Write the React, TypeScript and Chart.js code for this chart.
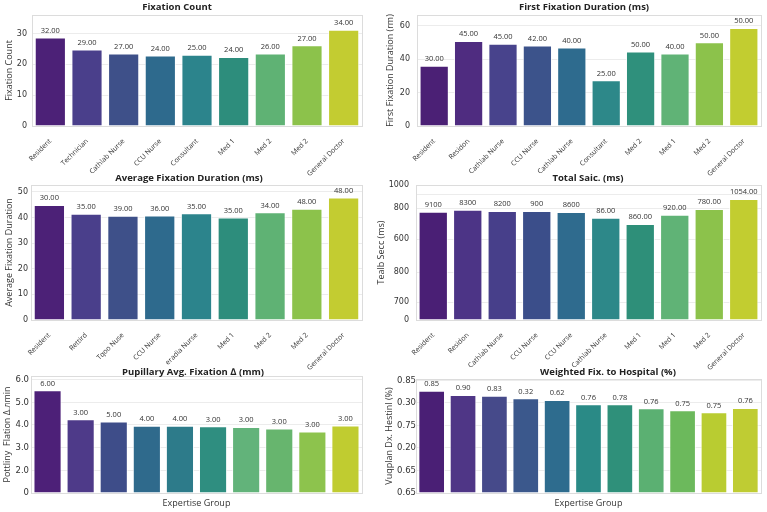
import React, { useEffect, useRef } from "react";
import { Chart, registerables } from "chart.js";

Chart.register(...registerables);

// ---------- Panel 1: Fixation Count ----------
const fcCategories = ["Resident", "Technician", "Cathlab Nurse", "CCU Nurse", "Consultant", "Med 1", "Med 2", "Med 2", "General Doctor"];
const fcValues = [28.7, 24.8, 23.5, 22.9, 23.1, 22.4, 23.5, 26.2, 31.2];
const fcValueLabels = ["32.00", "29.00", "27.00", "24.00", "25.00", "24.00", "26.00", "27.00", "34.00"];
const fcTicks = [0, 10, 20, 30];
const fcTickLabels = ["0", "10", "20", "30"];
const fcColors = ["#4c2177", "#4a3f8b", "#3e5089", "#2e6a8d", "#2c848c", "#2d8d7c", "#5fb274", "#8cc24b", "#c3cc31"];

// ---------- Panel 2: First Fixation Duration ----------
const ffCategories = ["Resident", "Residon", "Cathlab Nurse", "CCU Nurse", "Cathlab Nurse", "Consultant", "Med 2", "Med 1", "Med 2", "General Doctor"];
const ffValues = [36.1, 50.9, 49.3, 48.3, 47.1, 27.4, 44.7, 43.5, 50.1, 58.7];
const ffValueLabels = ["30.00", "45.00", "45.00", "42.00", "40.00", "25.00", "50.00", "40.00", "50.00", "50.00"];
const ffTicks = [0, 20, 40, 60];
const ffTickLabels = ["0", "20", "40", "60"];
const ffColors = ["#4b2075", "#4f2c80", "#48438c", "#3c538b", "#2e6b8e", "#2d8889", "#2f907c", "#60b376", "#8cc24b", "#c2cd30"];

// ---------- Panel 3: Average Fixation Duration ----------
const afCategories = ["Resident", "Rettird", "Tqoo Nuse", "CCU Nurse", "eradia Nurse", "Med 1", "Med 2", "Med 2", "General Doctor"];
const afValues = [44.9, 41.5, 40.7, 40.8, 41.7, 40.0, 42.1, 43.4, 47.8];
const afValueLabels = ["30.00", "35.00", "39.00", "36.00", "35.00", "35.00", "34.00", "48.00", "48.00"];
const afTicks = [0, 10, 20, 30, 40, 50];
const afTickLabels = ["0", "10", "20", "30", "40", "50"];
const afColors = ["#4c2177", "#4a3f8b", "#3e5089", "#2e6a8d", "#2c848c", "#2d8d7c", "#5fb274", "#8cc24b", "#c3cc31"];

// ---------- Panel 4: Total Saic. ----------
const tsCategories = ["Resident", "Residon", "Cathlab Nurse", "CCU Nurse", "CCU Nurse", "Cathlab Nurse", "Med 1", "Med 1", "Med 2", "General Doctor"];
const tsValues = [802, 817, 807, 807, 800, 758, 711, 780, 822, 896];
const tsValueLabels = ["9100", "8300", "8200", "900", "8600", "86.00", "860.00", "920.00", "780.00", "1054.00"];
const tsTicks = [0, 131, 353, 598, 827, 926, 1000];
const tsTickLabels = ["0", "700", "800", "600", "800", "", "1000"];
const tsColors = ["#4a1f75", "#4c3486", "#473f8a", "#3b4e8a", "#2f6b8e", "#2d8889", "#2e8f79", "#60b376", "#8cc24b", "#c2cd30"];

// ---------- Panel 5: Pupillary Avg. Fixation ----------
const puCategories = ["1", "2", "3", "4", "5", "6", "7", "8", "9", "10"];
const puValues = [5.53, 4.25, 4.15, 3.97, 3.97, 3.94, 3.91, 3.84, 3.71, 3.98];
const puValueLabels = ["6.00", "3.00", "5.00", "4.00", "4.00", "3.00", "3.00", "3.00", "3.00", "3.00"];
const puTicks = [1, 2, 3, 4, 5, 6];
const puTickLabels = ["0", "2.0", "3.0", "4.0", "5.0", "6.0"];
const puColors = ["#4d2078", "#4e3a89", "#3e4d89", "#2f6a8c", "#2d7b8a", "#2f8e80", "#62b37a", "#67b56e", "#8dc34d", "#c0cc30"];

// ---------- Panel 6: Weighted Fix. to Hospital ----------
const wfCategories = ["1", "2", "3", "4", "5", "6", "7", "8", "9", "10", "11"];
const wfValues = [4.54, 4.35, 4.32, 4.21, 4.13, 3.94, 3.94, 3.76, 3.67, 3.58, 3.77];
const wfValueLabels = ["0.85", "0.90", "0.83", "0.32", "0.62", "0.76", "0.78", "0.76", "0.75", "0.75", "0.76"];
const wfTicks = [0, 1, 2, 3, 4, 5];
const wfTickLabels = ["0.65", "0.65", "0.20", "0.75", "0.30", "0.85"];
const wfColors = ["#4a1f75", "#4f3686", "#464a8a", "#3b588c", "#2e6c8e", "#2a8a86", "#2f907a", "#5bb072", "#6cb95c", "#b9cc31", "#bfcc33"];

type Panel = {
  x0: number; y0: number; w: number; h: number;
  area: { l: number; r: number; t: number; b: number };
  title: string; titleX: number; titleY: number;
  yTitle: string; yTitlePad: number; tickPad: number; tickSize: number; xTitle?: string;
  categories: string[]; values: number[]; valueLabels: string[];
  colors: string[]; yMin: number; yMax: number;
  ticks: number[]; tickLabels: string[]; showX: boolean;
};

const panels: Panel[] = [
  {
    x0: 0, y0: 0, w: 384, h: 180, area: { l: 32, r: 362, t: 15, b: 126 },
    title: "Fixation Count", titleX: 177, titleY: 7, yTitle: "Fixation Count", yTitlePad: 4, tickPad: 5, tickSize: 8,
    categories: fcCategories, values: fcValues, valueLabels: fcValueLabels, colors: fcColors,
    yMin: 0, yMax: 36, ticks: fcTicks, tickLabels: fcTickLabels, showX: true,
  },
  {
    x0: 384, y0: 0, w: 383, h: 180, area: { l: 33, r: 377, t: 15, b: 126 },
    title: "First Fixation Duration (ms)", titleX: 200, titleY: 7, yTitle: "First Fixation Duration (rm)", yTitlePad: 1, tickPad: 7, tickSize: 8,
    categories: ffCategories, values: ffValues, valueLabels: ffValueLabels, colors: ffColors,
    yMin: 0, yMax: 66.5, ticks: ffTicks, tickLabels: ffTickLabels, showX: true,
  },
  {
    x0: 0, y0: 170, w: 384, h: 210, area: { l: 31, r: 362, t: 15, b: 150 },
    title: "Average Fixation Duration (ms)", titleX: 189, titleY: 8, yTitle: "Average Fixation Duration", yTitlePad: 4, tickPad: 3, tickSize: 8,
    categories: afCategories, values: afValues, valueLabels: afValueLabels, colors: afColors,
    yMin: 0, yMax: 52.7, ticks: afTicks, tickLabels: afTickLabels, showX: true,
  },
  {
    x0: 376, y0: 170, w: 391, h: 210, area: { l: 40, r: 385, t: 15, b: 150 },
    title: "Total Saic. (ms)", titleX: 212, titleY: 8, yTitle: "Tealb Secc (ms)", yTitlePad: 0, tickPad: 7, tickSize: 8,
    categories: tsCategories, values: tsValues, valueLabels: tsValueLabels, colors: tsColors,
    yMin: 0, yMax: 1000, ticks: tsTicks, tickLabels: tsTickLabels, showX: true,
  },
  {
    x0: 0, y0: 340, w: 384, h: 172, area: { l: 31, r: 362, t: 36, b: 153 },
    title: "Pupillary Avg. Fixation \u2206 (mm)", titleX: 193, titleY: 32, yTitle: "Pottliny  Flation \u0394.\u043bmin", yTitlePad: 2, tickPad: 2, tickSize: 8.5,
    xTitle: "Expertise Group",
    categories: puCategories, values: puValues, valueLabels: puValueLabels, colors: puColors,
    yMin: 1, yMax: 6.16, ticks: puTicks, tickLabels: puTickLabels, showX: false,
  },
  {
    x0: 384, y0: 340, w: 383, h: 172, area: { l: 32, r: 377, t: 39, b: 153 },
    title: "Weighted Fix. to Hospital (%)", titleX: 224, titleY: 32, yTitle: "Vuqplan Dx. Hestinl (%)", yTitlePad: 0, tickPad: 0, tickSize: 8.5,
    xTitle: "Expertise Group",
    categories: wfCategories, values: wfValues, valueLabels: wfValueLabels, colors: wfColors,
    yMin: 0, yMax: 5.06, ticks: wfTicks, tickLabels: wfTickLabels, showX: false,
  },
];

const TEXT_FONT = "'Open Sans', 'DejaVu Sans', sans-serif";
const TICK_FONT = "'DejaVu Sans', sans-serif";

function PanelChart({ p }: { p: Panel }) {
  const ref = useRef<HTMLCanvasElement | null>(null);
  useEffect(() => {
    if (!ref.current) return;
    const framePlugin = {
      id: "frame",
      beforeDatasetsDraw(chart: any) {
        const { ctx, chartArea: a } = chart;
        ctx.save();
        ctx.strokeStyle = "#dcdcdc";
        ctx.lineWidth = 1;
        ctx.strokeRect(Math.round(a.left) + 0.5, Math.round(a.top) + 0.5, Math.round(a.right - a.left), Math.round(a.bottom - a.top));
        ctx.restore();
      },
    };
    const labelPlugin = {
      id: "valueLabels",
      afterDatasetsDraw(chart: any) {
        const { ctx } = chart;
        const meta = chart.getDatasetMeta(0);
        ctx.save();
        ctx.font = `7.5px ${TEXT_FONT}`;
        ctx.fillStyle = "#333";
        ctx.textAlign = "center";
        ctx.textBaseline = "bottom";
        meta.data.forEach((bar: any, i: number) => {
          ctx.fillText(p.valueLabels[i], bar.x, bar.y - 3);
        });
        ctx.restore();
      },
    };
    const titlePlugin = {
      id: "panelTitle",
      afterDraw(chart: any) {
        const { ctx } = chart;
        ctx.save();
        ctx.font = `bold 9.5px ${TEXT_FONT}`;
        ctx.fillStyle = "#222";
        ctx.textAlign = "center";
        ctx.textBaseline = "middle";
        ctx.fillText(p.title, p.titleX, p.titleY);
        ctx.restore();
      },
    };
    const chart = new Chart(ref.current, {
      type: "bar",
      data: {
        labels: p.categories,
        datasets: [
          {
            data: p.values,
            backgroundColor: p.colors,
            borderColor: "rgba(255,255,255,0.75)",
            borderWidth: 1,
            barPercentage: 0.85,
            categoryPercentage: 1,
            base: p.yMin,
          } as any,
        ],
      },
      options: {
        responsive: false,
        animation: false,
        layout: { padding: { left: 0, right: p.w - p.area.r, top: p.area.t, bottom: 0 } },
        plugins: { legend: { display: false }, tooltip: { enabled: false }, title: { display: false } },
        scales: {
          x: {
            grid: { display: false },
            border: { display: false },
            ticks: {
              display: p.showX,
              autoSkip: false,
              maxRotation: 45,
              minRotation: 45,
              padding: 3,
              color: "#333",
              font: { family: TEXT_FONT, size: 7 },
            },
            title: p.xTitle
              ? { display: true, text: p.xTitle, color: "#333", font: { family: TEXT_FONT, size: 9 }, padding: { top: 0, bottom: 3 } }
              : { display: false },
            afterFit: (s: any) => {
              s.height = p.h - p.area.b;
            },
          },
          y: {
            min: p.yMin,
            max: p.yMax,
            grid: { color: "#ececec", drawTicks: false },
            border: { display: false },
            ticks: {
              autoSkip: false,
              padding: p.tickPad,
              color: "#333",
              font: { family: TICK_FONT, size: p.tickSize },
              callback: (_v: any, i: number) => p.tickLabels[i],
            },
            afterBuildTicks: (s: any) => {
              s.ticks = p.ticks.map((v) => ({ value: v }));
            },
            title: { display: true, text: p.yTitle, color: "#333", font: { family: TEXT_FONT, size: 9 }, padding: { top: p.yTitlePad, bottom: 0 } },
            afterFit: (s: any) => {
              s.width = p.area.l;
            },
          },
        },
      } as any,
      plugins: [framePlugin, labelPlugin, titlePlugin],
    });
    return () => chart.destroy();
  }, [p]);
  return (
    <canvas
      ref={ref}
      width={p.w}
      height={p.h}
      style={{ position: "absolute", left: p.x0, top: p.y0, width: p.w, height: p.h }}
    />
  );
}

export default function App() {
  return (
    <div style={{ position: "absolute", left: 0, top: 0, width: 767, height: 512, background: "#fff", overflow: "hidden" }}>
      {panels.map((p, i) => (
        <PanelChart key={i} p={p} />
      ))}
    </div>
  );
}
